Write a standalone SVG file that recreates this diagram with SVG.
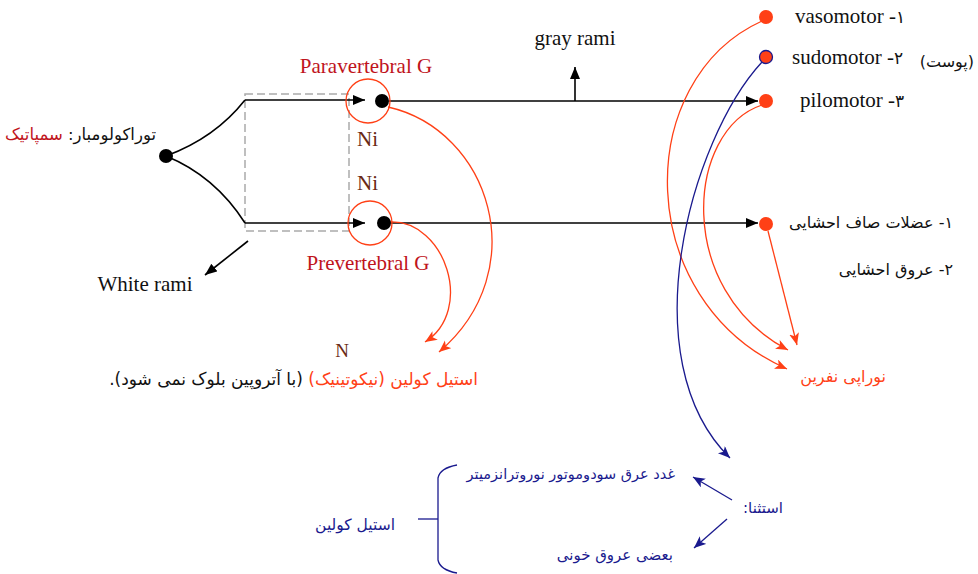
<svg xmlns="http://www.w3.org/2000/svg" width="978" height="574" viewBox="0 0 978 574">
<style>
.en{font-family:"Liberation Serif","Times New Roman",serif;font-size:21px;fill:#111}
.fa{font-family:"DejaVu Sans","Noto Sans",sans-serif;font-size:15px;fill:#111}
.dg{font-family:"DejaVu Sans",sans-serif;font-size:17px}
.red{fill:#c0141c}
.brown{fill:#6a2a14}
.or{fill:#ff4016}
.blue{fill:#1a1a8e}
.blk{stroke:#000;stroke-width:1.6;fill:none}
.orl{stroke:#ff4016;stroke-width:1.3;fill:none}
.bll{stroke:#1a1a8e;stroke-width:1.3;fill:none}
</style>
<defs>
<marker id="ab" markerUnits="userSpaceOnUse" markerWidth="14" markerHeight="12" refX="12" refY="5" orient="auto"><path d="M0,0 L12,5 L0,10 Z" fill="#000"/></marker>
<marker id="ao" markerUnits="userSpaceOnUse" markerWidth="14" markerHeight="12" refX="12" refY="5" orient="auto"><path d="M0,0 L12,5 L0,10 L3,5 Z" fill="#ff4016"/></marker>
<marker id="au" markerUnits="userSpaceOnUse" markerWidth="14" markerHeight="12" refX="12" refY="5" orient="auto"><path d="M0,0 L12,5 L0,10 L3,5 Z" fill="#1a1a8e"/></marker>
</defs>
<rect width="978" height="574" fill="#fff"/>

<g id="connectors">
<rect x="245" y="94" width="104" height="137" fill="none" stroke="#aaa" stroke-width="1.5" stroke-dasharray="8,4"/>
<path class="blk" d="M166,156 Q215,138 245,100"/>
<path class="blk" d="M166,156 Q215,176 245,223"/>
<path class="blk" d="M245,100 H365" marker-end="url(#ab)"/>
<path class="blk" d="M245,223 H365" marker-end="url(#ab)"/>
<path class="blk" d="M389,101 H758" marker-end="url(#ab)"/>
<path class="blk" d="M391,223 H758" marker-end="url(#ab)"/>
<path class="blk" d="M575,101 V67" marker-end="url(#ab)"/>
<path class="blk" d="M248,241 L205,275" marker-end="url(#ab)"/>
<path class="orl" d="M388,107 C490,130 535,270 439,352" marker-end="url(#ao)"/>
<path class="orl" d="M390,222 C445,220 475,310 425,342" marker-end="url(#ao)"/>
<path class="orl" d="M762,21 C632,80 632,300 787,369" marker-end="url(#ao)"/>
<path class="orl" d="M762,105 C686,130 674,290 788,350" marker-end="url(#ao)"/>
<path class="orl" d="M768,231 L797,345" marker-end="url(#ao)"/>
<path class="bll" d="M762,62 C690,140 630,360 730,458" marker-end="url(#au)"/>
<path class="bll" d="M732,500 L693,477" marker-end="url(#au)"/>
<path class="bll" d="M727,519 L694,548" marker-end="url(#au)"/>
<path class="bll" d="M457,465 Q440,468 438,478 V560 Q440,570 457,573"/>
<path class="bll" d="M418,519 H438"/>
</g>

<g id="sympathetic">
<circle cx="166" cy="156" r="7" fill="#000"/>
<text class="fa" x="156" y="140" direction="rtl" text-anchor="start" style="font-size:16.5px">توراکولومبار: <tspan class="red">سمپاتیک</tspan></text>
</g>

<g id="paravertebral">
<circle cx="368" cy="101" r="22" fill="none" stroke="#ff4016" stroke-width="1.3"/>
<circle cx="382" cy="101" r="7" fill="#000"/>
<text class="en red" x="366" y="73" text-anchor="middle">Paravertebral G</text>
<text class="en brown" x="357" y="146">Ni</text>
</g>

<g id="prevertebral">
<circle cx="370" cy="223" r="22" fill="none" stroke="#ff4016" stroke-width="1.3"/>
<circle cx="384" cy="223" r="7" fill="#000"/>
<text class="en red" x="368" y="270" text-anchor="middle">Prevertebral G</text>
<text class="en brown" x="357" y="190">Ni</text>
</g>

<g id="gray-rami"><text class="en" x="575" y="45" text-anchor="middle">gray rami</text></g>
<g id="white-rami"><text class="en" x="145" y="291" text-anchor="middle">White rami</text></g>

<g id="vasomotor">
<circle cx="766" cy="17" r="7" fill="#ff4016"/>
<text class="en" x="795" y="23" direction="ltr" unicode-bidi="bidi-override">vasomotor -<tspan class="dg">۱</tspan></text>
</g>
<g id="sudomotor">
<circle cx="766" cy="57" r="6.5" fill="#ff4016" stroke="#1a1a8e" stroke-width="1.3"/>
<text class="en" x="792" y="64" direction="ltr" unicode-bidi="bidi-override">sudomotor -<tspan class="dg">۲</tspan></text>
<text class="fa" x="974" y="67" direction="rtl" text-anchor="start" style="font-size:16px">(پوست)</text>
</g>
<g id="pilomotor">
<circle cx="766" cy="101" r="7" fill="#ff4016"/>
<text class="en" x="800" y="107" direction="ltr" unicode-bidi="bidi-override">pilomotor -<tspan class="dg">۳</tspan></text>
</g>
<g id="visceral">
<circle cx="766" cy="224" r="7" fill="#ff4016"/>
<text class="fa" x="953" y="228" direction="rtl" text-anchor="start" style="font-size:16px">۱- عضلات صاف احشایی</text>
<text class="fa" x="953" y="275" direction="rtl" text-anchor="start" style="font-size:16px">۲- عروق احشایی</text>
</g>

<g id="norepinephrine">
<text class="fa or" x="886" y="382" direction="rtl" text-anchor="start" style="font-size:16px">نوراپی نفرین</text>
</g>

<g id="acetylcholine-n">
<text class="en brown" x="342" y="357" text-anchor="middle" style="font-size:19px">N</text>
<text class="fa" x="478" y="385" direction="rtl" text-anchor="start" style="font-size:17px"><tspan class="or">استیل کولین (نیکوتینیک)</tspan> (با آتروپین بلوک نمی شود).</text>
</g>

<g id="exception">
<text class="fa blue" x="783" y="513" direction="rtl" text-anchor="start" style="font-size:15px">استثنا:</text>
<text class="fa blue" x="675" y="479" direction="rtl" text-anchor="start" style="font-size:14.5px">غدد عرق سودوموتور نوروترانزمیتر</text>
<text class="fa blue" x="673" y="560" direction="rtl" text-anchor="start" style="font-size:15px">بعضی عروق خونی</text>
<text class="fa blue" x="395" y="530" direction="rtl" text-anchor="start" style="font-size:15.5px">استیل کولین</text>
</g>
</svg>
